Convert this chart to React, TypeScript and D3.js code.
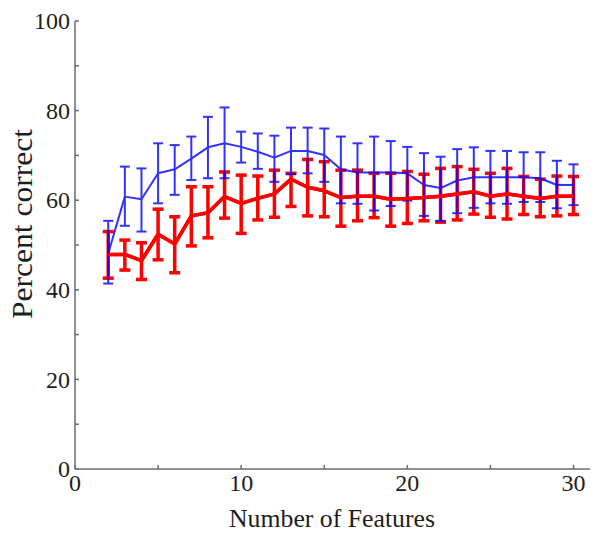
import React from "react";
import * as d3 from "d3";

const width = 600;
const height = 534;

// number of features on the x axis
const features = [2, 3, 4, 5, 6, 7, 8, 9, 10, 11, 12, 13, 14, 15, 16, 17, 18, 19, 20, 21, 22, 23, 24, 25, 26, 27, 28, 29, 30];

// blue series: mean, upper and lower end of the error bar
const blueMean = [48.1, 60.8, 60.2, 66.0, 66.9, 69.3, 71.8, 72.7, 71.9, 70.8, 69.5, 71.0, 71.0, 70.1, 66.9, 66.2, 66.2, 66.2, 66.0, 63.4, 62.7, 64.4, 65.1, 65.1, 65.1, 65.1, 64.9, 63.4, 63.4];
const blueHigh = [55.4, 67.5, 67.1, 72.7, 72.3, 74.2, 78.6, 80.7, 75.3, 74.9, 74.4, 76.2, 76.2, 76.0, 74.2, 72.7, 74.2, 73.2, 71.9, 70.5, 69.7, 71.4, 71.8, 71.0, 71.0, 70.7, 70.7, 68.8, 68.0];
const blueLow = [41.4, 54.3, 53.0, 59.3, 61.2, 64.5, 64.9, 64.9, 68.4, 67.0, 64.1, 65.8, 66.0, 64.1, 59.3, 59.2, 57.7, 58.7, 59.9, 56.5, 55.4, 57.1, 58.3, 59.3, 59.2, 59.6, 59.6, 58.2, 58.9];

// red series
const redMean = [47.9, 47.9, 46.5, 52.4, 50.2, 56.5, 57.2, 60.8, 59.3, 60.4, 61.4, 64.7, 62.9, 62.1, 60.6, 60.9, 60.9, 60.2, 60.4, 60.6, 60.9, 61.4, 61.9, 60.9, 61.4, 60.9, 60.4, 60.9, 60.9];
const redHigh = [53.0, 51.1, 50.5, 58.0, 56.3, 63.0, 63.0, 66.3, 65.6, 65.4, 66.7, 66.0, 69.1, 68.6, 66.7, 66.7, 66.0, 66.0, 66.4, 65.8, 67.1, 67.5, 66.9, 66.0, 67.1, 65.3, 64.7, 65.4, 65.3];
const redLow = [42.6, 44.4, 42.3, 46.7, 43.8, 49.8, 51.6, 56.0, 52.6, 55.6, 56.2, 58.6, 56.5, 56.3, 54.2, 55.4, 56.1, 54.2, 54.8, 55.4, 55.1, 55.6, 56.9, 56.2, 55.8, 56.8, 56.3, 56.5, 56.8];

const xTicks = [0, 5, 10, 15, 20, 25, 30];
const xLabels = [0, 10, 20, 30];
const yTicks = [0, 10, 20, 30, 40, 50, 60, 70, 80, 90, 100];
const yLabels = [0, 20, 40, 60, 80, 100];

const x = d3.scaleLinear().domain([0, 30]).range([75, 573.5]);
const y = d3.scaleLinear().domain([0, 100]).range([469, 21]);

const font = "Liberation Serif, Times New Roman, Times, serif";
const axisColor = "#6b6b6b";

const meanLine = d3
  .line<number>()
  .x((_, i) => x(features[i]))
  .y((d) => y(d));

function Series({ mean, high, low, color, lw, cap, opacity }) {
  return (
    <g opacity={opacity}>
      {features.map((f, i) => (
        <g key={f} stroke={color} strokeWidth={lw}>
          <line x1={x(f)} x2={x(f)} y1={y(high[i])} y2={y(low[i])} />
          <line x1={x(f) - cap} x2={x(f) + cap} y1={y(high[i])} y2={y(high[i])} />
          <line x1={x(f) - cap} x2={x(f) + cap} y1={y(low[i])} y2={y(low[i])} />
        </g>
      ))}
      <path d={meanLine(mean) || ""} fill="none" stroke={color} strokeWidth={lw} strokeLinejoin="round" />
    </g>
  );
}

export default function App() {
  return (
    <svg
      width={width}
      height={height}
      style={{ position: "absolute", left: 0, top: 0, background: "#fff" }}
    >
      {/* axes */}
      <g stroke={axisColor} strokeWidth={1.5} fill="none">
        <line x1={x(0)} x2={590} y1={y(0)} y2={y(0)} />
        <line x1={x(0)} x2={x(0)} y1={y(0)} y2={y(100)} />
        {xTicks.map((t) => (
          <line key={"xt" + t} x1={x(t)} x2={x(t)} y1={y(0)} y2={y(0) - 4} />
        ))}
        {yTicks.map((t) => (
          <line key={"yt" + t} x1={x(0)} x2={x(0) + 4} y1={y(t)} y2={y(t)} />
        ))}
      </g>
      <g style={{ fontFamily: font }} fontSize={24} fill="#1e1e1e">
        {xLabels.map((t) => (
          <text key={"xl" + t} x={x(t)} y={491} textAnchor="middle">
            {t}
          </text>
        ))}
        {yLabels.map((t) => (
          <text key={"yl" + t} x={70} y={y(t)} dy="0.34em" textAnchor="end">
            {t}
          </text>
        ))}
        <text x={332} y={527} textAnchor="middle" fontSize={25} textLength={206} lengthAdjust="spacingAndGlyphs">
          Number of Features
        </text>
        <text
          transform={`translate(32,224) rotate(-90)`}
          textAnchor="middle"
          fontSize={30}
          textLength={190}
          lengthAdjust="spacingAndGlyphs"
        >
          Percent correct
        </text>
      </g>

      {/* red error bars underneath */}
      <Series mean={redMean} high={redHigh} low={redLow} color="#ff0000" lw={3.5} cap={5.5} opacity={1} />
      {/* blue series drawn semi-transparent over red */}
      <Series mean={blueMean} high={blueHigh} low={blueLow} color="#0000ff" lw={2} cap={5} opacity={0.8} />
      {/* red mean line on top */}
      <path d={meanLine(redMean) || ""} fill="none" stroke="#ff0000" strokeWidth={3.5} strokeLinejoin="round" />
    </svg>
  );
}
